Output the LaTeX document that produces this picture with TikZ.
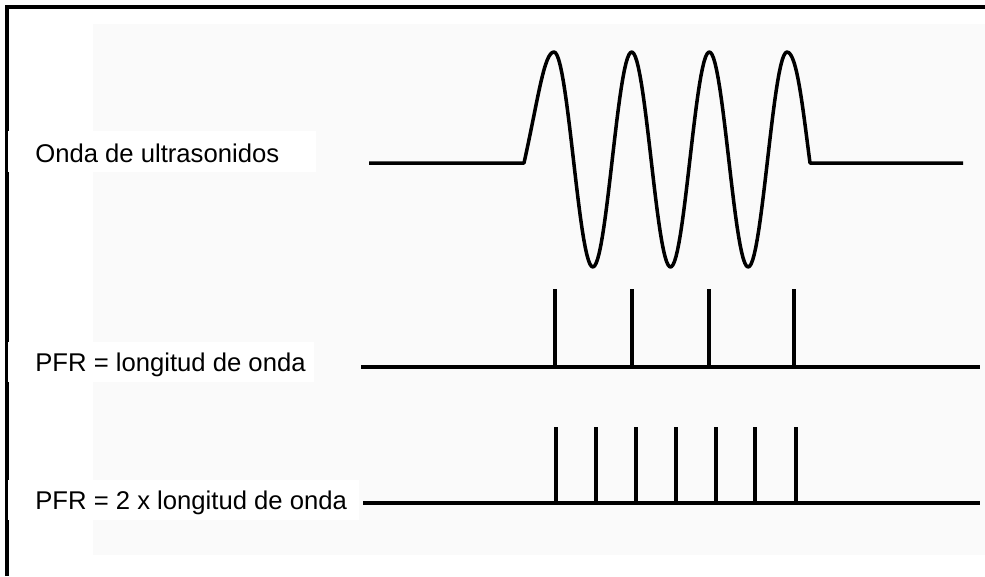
\documentclass[tikz,border=0pt]{standalone}
\usepackage{fontspec}
\setmainfont{Liberation Sans}
\begin{document}
\begin{tikzpicture}[x=0.02cm,y=-0.02cm]
	\tikzset{wave/.style={line width=2pt, line join=round},
		base/.style={line width=2.8pt},
		pulse/.style={line width=2pt},
		lbl/.style={anchor=base west, inner sep=0pt, font=\fontsize{14.6}{17}\selectfont}}

	% Page and grey scan area
	\useasboundingbox (0,0) rectangle (985,576);
	\fill[gray!4] (93,24) rectangle (985,555);
	\draw[line width=2pt] (7,576) -- (7,7) -- (985,7);

	% White label boxes
	\fill[white] (8,131) rectangle (316,172);
	\fill[white] (8,342) rectangle (314,382);
	\fill[white] (8,480) rectangle (359,520);

	% Labels
	\node[lbl] (onda) at (35,162) {Onda de ultrasonidos};
	\node[lbl] (pfr1) at (35,371) {PFR = longitud de onda};
	\node[lbl] (pfr2) at (35,509) {PFR = 2 x longitud de onda};

	% Ultrasound wave: four cycles between two flat parts
	\draw[wave] (369,163) -- (524,163) .. controls (538,100) and (544,52) .. (554,52)
		-- plot[domain=554:787, samples=150] (\x, {159.5-107.5*cos(4.635*(\x-554))})
		.. controls (797,52) and (803,110) .. (810,163) -- (963,163);

	% PFR = longitud de onda
	\draw[base] (361,367) -- (980,367);
	\foreach \px in {555,632,709,794}
		\draw[pulse] (\px,367) -- (\px,289);

	% PFR = 2 x longitud de onda
	\draw[base] (363,503) -- (980,503);
	\foreach \px in {556,596,636,676,716,755,796}
		\draw[pulse] (\px,503) -- (\px,427);
\end{tikzpicture}
\end{document}
